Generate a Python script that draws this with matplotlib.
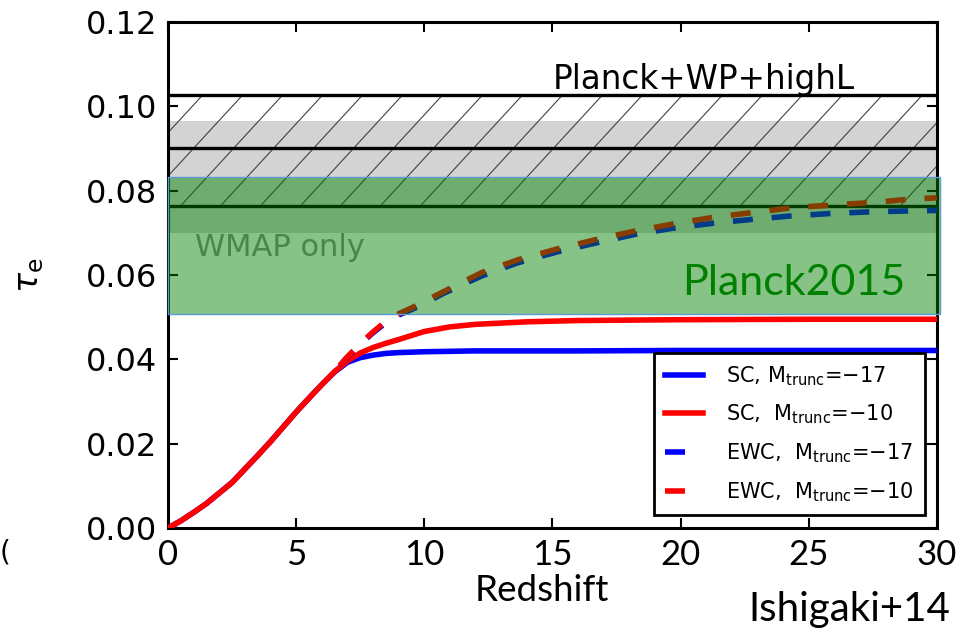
import numpy as np
import matplotlib
matplotlib.use("Agg")
import matplotlib.pyplot as plt
from matplotlib.patches import Rectangle
from matplotlib.collections import LineCollection
from matplotlib.lines import Line2D

plt.rcParams["mathtext.fontset"] = "dejavusans"
plt.rcParams["font.family"] = ["DejaVu Sans"]

# ── Datos ─────────────────────────────────────────────────────────────────────
# Modelos SC (curvas continuas)
z_sc = [0, 0.5, 1, 1.5, 2, 2.5, 3, 3.5, 4, 4.5, 5, 5.5, 6, 6.5, 7, 7.5, 8,
        8.5, 9, 10, 11, 12, 14, 16, 20, 25, 30]
tau_sc_m17 = [0, 0.0017, 0.0037, 0.0058, 0.0083, 0.0108, 0.0140, 0.0172,
              0.0205, 0.0240, 0.0275, 0.0308, 0.0340, 0.0370, 0.0393, 0.0404,
              0.0410, 0.0414, 0.0416, 0.0418, 0.0419, 0.0420, 0.0420, 0.0420,
              0.0421, 0.0421, 0.0421]
tau_sc_m10 = [0, 0.0017, 0.0037, 0.0058, 0.0083, 0.0108, 0.0140, 0.0172,
              0.0205, 0.0240, 0.0275, 0.0308, 0.0340, 0.0371, 0.0396, 0.0415,
              0.0428, 0.0438, 0.0447, 0.0466, 0.0477, 0.0483, 0.0489, 0.0492,
              0.0494, 0.0495, 0.0495]

# Modelos EWC (curvas discontinuas)
z_ewc = [6.7, 7, 7.5, 8, 8.5, 9, 9.5, 10, 10.7, 12.25, 13.65, 15.2, 16.7,
         18.2, 19.7, 21.3, 22.8, 24.3, 25.9, 27.5, 29, 30]
tau_ewc_m17 = [0.0385, 0.0405, 0.0436, 0.0463, 0.0487, 0.0505, 0.0518, 0.0532,
               0.0555, 0.0598, 0.0629, 0.0655, 0.0676, 0.0696, 0.0711, 0.0723,
               0.0732, 0.0740, 0.0746, 0.0750, 0.0752, 0.0753]
tau_ewc_m10 = [0.0385, 0.0406, 0.0437, 0.0465, 0.0490, 0.0508, 0.0522, 0.0537,
               0.0559, 0.0606, 0.0636, 0.0662, 0.0684, 0.0704, 0.0721, 0.0737,
               0.0748, 0.0759, 0.0766, 0.0772, 0.0780, 0.0783]

# Restricciones observacionales
planck_wp_lines = [0.1028, 0.0901, 0.0764]    # superior, central, inferior
wmap_band = (0.0700, 0.0966)
planck2015_band = (0.0508, 0.0833)

labels = ["SC, M$_{\\rm trunc}$=\u221217",
          "SC,  M$_{\\rm trunc}$=\u221210",
          "EWC,  M$_{\\rm trunc}$=\u221217",
          "EWC,  M$_{\\rm trunc}$=\u221210"]

x_ticks = [0, 5, 10, 15, 20, 25, 30]
y_ticks = [0.00, 0.02, 0.04, 0.06, 0.08, 0.10, 0.12]

# ── Figura ────────────────────────────────────────────────────────────────────
fig = plt.figure(figsize=(9.78, 6.37), dpi=100)
ax = fig.add_axes([0.1718, 0.1711, 0.7862, 0.7944])
ax.set_xlim(0, 30)
ax.set_ylim(0, 0.12)

# Banda gris (WMAP only)
ax.axhspan(*wmap_band, color="#d3d3d3", lw=0, zorder=1)

# Rayado entre las líneas de Planck+WP+highL (espaciado ancho a mano)
lo, hi = planck_wp_lines[2], planck_wp_lines[0]
run = 4.0      # avance horizontal de cada raya (unidades de z)
step = 1.56
segs = [[(x0 - run, lo), (x0, hi)] for x0 in np.arange(1.37 - 3 * step, 30 + run, step)]
ax.add_collection(LineCollection(segs, colors="0.25", linewidths=0.8, zorder=1.5))

for y in planck_wp_lines:
    ax.axhline(y, color="black", lw=2.4, zorder=2)

ax.text(1.05, 0.0645, "WMAP only", fontsize=22, color="0.55", zorder=2)
fig.text(553 / 978, 1 - 89 / 637, "Planck+WP+highL", fontsize=23.5,
         ha="left", va="baseline")

# Curvas
ax.plot(z_sc, tau_sc_m17, color="blue", lw=4, zorder=3)
ax.plot(z_sc, tau_sc_m10, color="red", lw=4, zorder=3.1)
dash = (0, (3.6, 3.4))
ax.plot(z_ewc, tau_ewc_m17, color="blue", lw=4, ls=dash, zorder=3.2)
ax.plot(z_ewc, tau_ewc_m10, color="red", lw=4, ls=dash, zorder=3.3)

# Caja Planck2015 superpuesta
ax.add_patch(Rectangle((0, planck2015_band[0]), 30.12,
                       planck2015_band[1] - planck2015_band[0],
                       facecolor=(0, 0.5, 0, 0.47), edgecolor="#5b9bd5",
                       lw=1.0, zorder=4, clip_on=False))
fig.text(905 / 978, 1 - 295 / 637, "Planck2015", fontsize=31, family="Lato",
         color="green", ha="right", va="baseline", zorder=5)

# Ejes
for s in ax.spines.values():
    s.set_linewidth(2.2)
ax.tick_params(direction="in", length=7, width=1.5, top=True, right=True)
ax.tick_params(axis="y", labelsize=23, pad=8)
ax.tick_params(axis="x", labelsize=25, pad=8)
ax.set_xticks(x_ticks)
ax.set_yticks(y_ticks)
ax.set_yticklabels([f"{v:.2f}" for v in y_ticks])
for t in ax.get_xticklabels():
    t.set_family("Lato")

fig.text(30 / 978, 1 - 275 / 637, r"$\tau_{\rm e}$", fontsize=24,
         rotation=90, ha="center", va="center")
fig.text(542 / 978, 1 - 601 / 637, "Redshift", fontsize=26.5, family="Lato",
         ha="center", va="baseline")
fig.text(950 / 978, 1 - 621 / 637, "Ishigaki+14", fontsize=29, family="Lato",
         ha="right", va="baseline")
fig.text(0, 1 - 552 / 637, "(", fontsize=20, ha="left", va="center")

# Leyenda
handles = [Line2D([], [], color="blue", lw=4),
           Line2D([], [], color="red", lw=4),
           Line2D([], [], color="blue", lw=4, ls=dash),
           Line2D([], [], color="red", lw=4, ls=dash)]
leg = ax.legend(handles, labels, loc="lower right",
                bbox_to_anchor=(0.984, 0.0257), borderaxespad=0,
                fontsize=15, handlelength=1.8, handletextpad=1.1,
                labelspacing=0.72, borderpad=0.55, fancybox=False,
                framealpha=1, edgecolor="black")
leg.get_frame().set_linewidth(2)
leg.set_zorder(6)

fig.savefig("out.png", dpi=100)
